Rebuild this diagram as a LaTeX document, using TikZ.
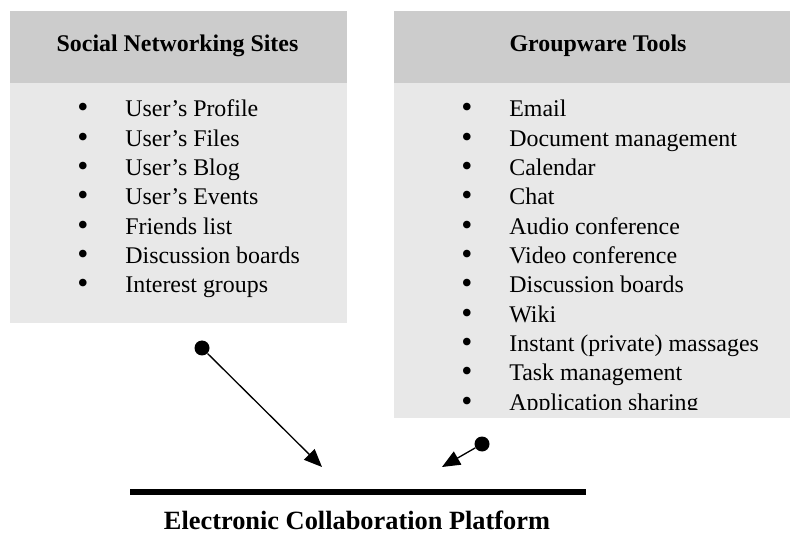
\documentclass[tikz,border=0pt]{standalone}
\usepackage{fontspec}
\setmainfont{Liberation Serif}
\usetikzlibrary{arrows.meta}

\begin{document}
\begin{tikzpicture}[
    item/.style = {anchor = base west, inner sep = 0pt, font = \fontsize{13.6}{16}\selectfont},
    bul/.style = {anchor = base, inner sep = 0pt, font = \fontsize{18}{20}\selectfont},
    head/.style = {anchor = base, inner sep = 0pt, font = \fontsize{13.6}{16}\selectfont\bfseries},
    knob/.style = {circle, fill = black, inner sep = 0pt, minimum size = 0.3cm},
    link/.style = {-{Triangle[length = 0.36cm, width = 0.3cm]}, line width = 0.75pt}
]
    \useasboundingbox (0, 0) rectangle (15.8, 10.74);

    \def\d{0.586}
    % the two shaded boxes
    \fill [black!9] (0.2, 4.28) rectangle (6.94, 10.52);
    \fill [black!20] (0.2, 9.08) rectangle (6.94, 10.52);
    \fill [black!9] (7.88, 2.38) rectangle (15.8, 10.52);
    \fill [black!20] (7.88, 9.08) rectangle (15.8, 10.52);

    \node [head] (sns) at (3.55, 9.7) {Social Networking Sites};
    \node [head] (gwt) at (11.96, 9.7) {Groupware Tools};

    \foreach \k/\txt in {0/User’s Profile, 1/User’s Files, 2/User’s Blog, 3/User’s Events,
                         4/Friends list, 5/Discussion boards, 6/Interest groups} {
        \node [bul] (sns-b\k) at (1.66, 8.38 - \k*\d) {\textbullet};
        \node [item] (sns-\k) at (2.5, 8.4 - \k*\d) {\txt};
    }

    \begin{scope}
        \clip (7.88, 2.56) rectangle (15.8, 10.52);
        \foreach \k/\txt in {0/Email, 1/Document management, 2/Calendar, 3/Chat,
                             4/Audio conference, 5/Video conference, 6/Discussion boards,
                             7/Wiki, 8/Instant (private) massages, 9/Task management,
                             10/Application sharing} {
            \node [bul] (gwt-b\k) at (9.34, 8.38 - \k*\d) {\textbullet};
            \node [item] (gwt-\k) at (10.18, 8.4 - \k*\d) {\txt};
        }
    \end{scope}

    % platform
    \coordinate (pl) at (2.6, 0.9);
    \coordinate (pr) at (11.72, 0.9);
    \draw [line width = 0.12cm] (pl) -- (pr);
    \node [head, font = \fontsize{15}{18}\selectfont\bfseries] (ecp) at (7.14, 0.16)
        {Electronic Collaboration Platform};

    \node [knob] (k1) at (4.04, 3.78) {};
    \node [knob] (k2) at (9.64, 1.86) {};
    \coordinate (t1) at (6.44, 1.4);
    \coordinate (t2) at (8.84, 1.4);
    \draw [link] (k1) -- (t1);
    \draw [link] (k2) -- (t2);

\end{tikzpicture}
\end{document}
